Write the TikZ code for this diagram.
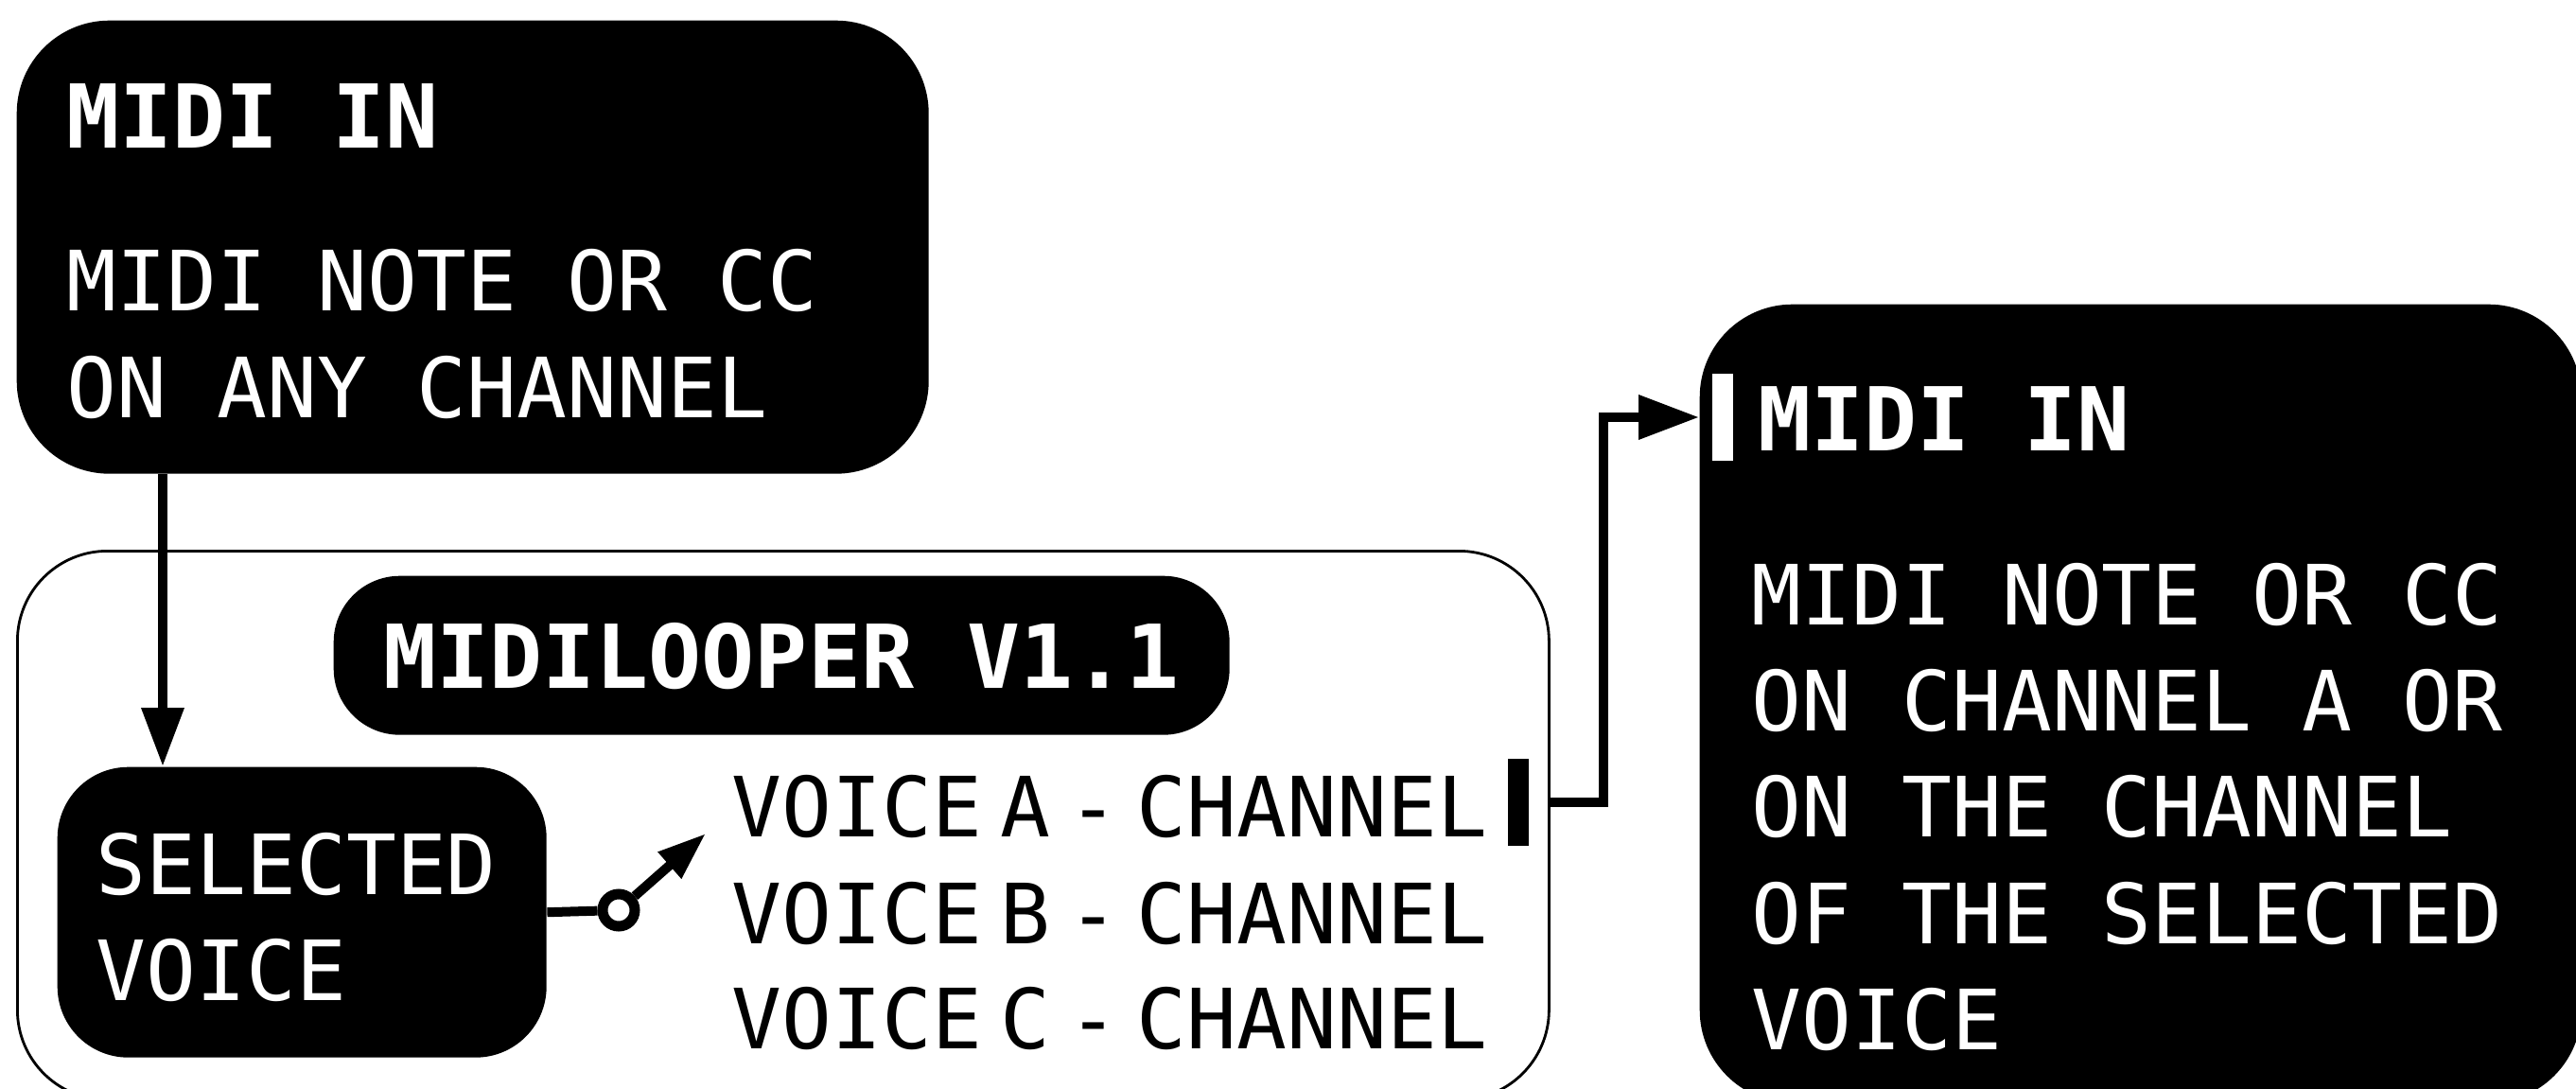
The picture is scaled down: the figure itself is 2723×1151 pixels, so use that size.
\documentclass[tikz,border=0pt]{standalone}
\usepackage{fontspec}
\usetikzlibrary{arrows.meta}
\newfontfamily\panelfont{DejaVu Sans Mono}
\newcommand\vgap{\hspace{.22em}}

\begin{document}
\begin{tikzpicture}[x=0.1mm,y=-0.1mm,
    blackbox/.style={fill=black,inner sep=0,anchor=north west},
    head/.style={text=white,inner sep=0,anchor=base west,font=\panelfont\bfseries\fontsize{26.5}{32}\selectfont},
    body/.style={text=white,inner sep=0,anchor=base west,align=left,font=\panelfont\fontsize{25}{31.87}\selectfont},
    voice/.style={inner sep=0,anchor=base west,font=\panelfont\fontsize{25}{31.87}\selectfont},
    wire/.style={line width=1mm},
    bar/.style={inner sep=0,minimum width=2.2mm,minimum height=9.2mm}]
    \useasboundingbox (0,0) rectangle (2723,1151);

    % boxes
    \node[blackbox,rounded corners=9.8mm,minimum width=96.4mm,minimum height=47.9mm] (midiin) at (17,21) {};
    \node[draw,line width=0.8pt,rounded corners=9.5mm,minimum width=161.9mm,minimum height=58mm,inner sep=0,anchor=north west] (looper) at (17,581) {};
    \node[blackbox,rounded corners=7mm,minimum width=94.7mm,minimum height=16.8mm] (title) at (352,608) {};
    \node[blackbox,rounded corners=7.5mm,minimum width=51.7mm,minimum height=30.7mm] (selvoice) at (60,810) {};
    \node[blackbox,rounded corners=9.8mm,minimum width=93.2mm,minimum height=84.4mm] (midiout) at (1796,321) {};

    % texts (multi-line nodes sit on their last baseline)
    \node[head] (inhead) at (70,156) {MIDI IN};
    \node[body] (inbody) at (70,441) {MIDI NOTE OR CC\\ON ANY CHANNEL};
    \node[head,anchor=base] (titletext) at (826,727) {MIDILOOPER V1.1};
    \node[body] (seltext) at (101,1057) {SELECTED\\VOICE};
    \node[voice] (voicea) at (773,884) {VOICE\vgap A\vgap-\vgap CHANNEL};
    \node[voice] (voiceb) at (773,997) {VOICE\vgap B\vgap-\vgap CHANNEL};
    \node[voice] (voicec) at (773,1108) {VOICE\vgap C\vgap-\vgap CHANNEL};
    \node[head] (outhead) at (1858,476) {MIDI IN};
    \node[body] (outbody) at (1851,1109) {MIDI NOTE OR CC\\ON CHANNEL A OR\\ON THE CHANNEL\\OF THE SELECTED\\VOICE};

    % bars
    \node[bar,fill=black] (cursor) at (1605,848) {};
    \node[bar,fill=white] (inbar) at (1821,441) {};

    % switch
    \node[draw,fill=white,circle,line width=1.1mm,minimum size=3.4mm,inner sep=0] (pivot) at (654,962) {};
    \coordinate (throw) at (746,881);
    \draw[wire] (selvoice.east) -- (pivot);
    \draw[wire,-{Triangle[length=5.1mm,width=3.5mm]}] (pivot) -- (throw);

    % connectors
    \coordinate (drop) at ([xshift=15.5mm]midiin.south west);
    \draw[wire,-{Triangle[length=6.2mm,width=4.3mm]}] (drop) -- (drop |- selvoice.north);
    \coordinate (bend) at (1695,441);
    \draw[wire,-{Triangle[length=6.4mm,width=4.5mm]}] (cursor -| looper.east) -| (bend) -- (inbar -| midiout.west);
\end{tikzpicture}
\end{document}
